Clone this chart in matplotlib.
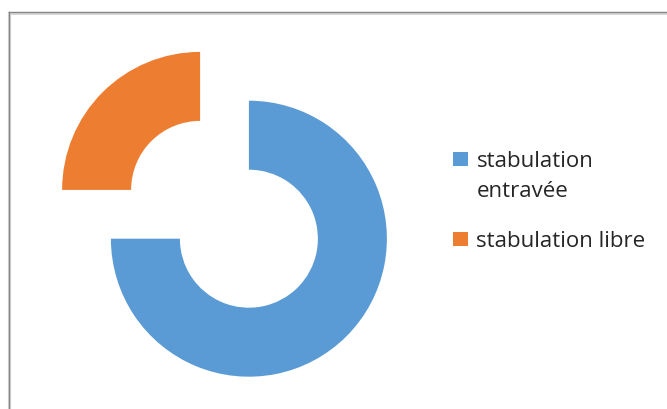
import matplotlib.pyplot as plt
from matplotlib.patches import Rectangle
from matplotlib.lines import Line2D

labels = ['stabulation\nentravée', 'stabulation libre']
values = [75, 25]
colors = ['#5b9bd5', '#ed7d31']

W, H = 667, 410
fig = plt.figure(figsize=(W / 100, H / 100), dpi=100)


def fx(px):
    return px / W


def fy(py):
    return 1 - py / H


# doughnut, both slices pulled out from a common centre
ax = fig.add_axes([fx(224.5 - 207), fy(215.3 + 207), 414 / W, 414 / H])
wedges, _ = ax.pie(values, colors=colors, startangle=90, counterclock=False,
                   explode=[0.25, 0.25], radius=1.0,
                   wedgeprops=dict(width=0.5, linewidth=0))
ax.set_xlim(-1.5, 1.5)
ax.set_ylim(-1.5, 1.5)
ax.set_aspect('auto')
ax.axis('off')

# chart area border (top and left edges are visible)
fig.add_artist(Line2D([fx(9), fx(9)], [fy(13.5), 0], color='#d9d9d9', lw=2.2,
                      transform=fig.transFigure))
fig.add_artist(Line2D([fx(9), 1], [fy(13.5), fy(13.5)], color='#d9d9d9', lw=2.2,
                      transform=fig.transFigure))
fig.add_artist(Line2D([fx(8.5), fx(8.5)], [fy(13), 0], color='#878787', lw=1,
                      transform=fig.transFigure))
fig.add_artist(Line2D([fx(8.5), 1], [fy(13), fy(13)], color='#878787', lw=1,
                      transform=fig.transFigure))

# legend: square next to the first line of each entry
rows = [(152.7, 166.7), (232.7, 246.7)]
line_gap = 30
for w, lab, (top, base) in zip(wedges, labels, rows):
    fig.add_artist(Rectangle((fx(453.3), fy(top + 14)), 15 / W, 14 / H,
                             facecolor=w.get_facecolor(), edgecolor='none',
                             transform=fig.transFigure))
    for i, line in enumerate(lab.split('\n')):
        fig.text(fx(476.5), fy(base + i * line_gap), line, ha='left',
                 va='baseline', fontsize=16, family='Open Sans',
                 color='#262626')

fig.savefig('out.png', dpi=100)
